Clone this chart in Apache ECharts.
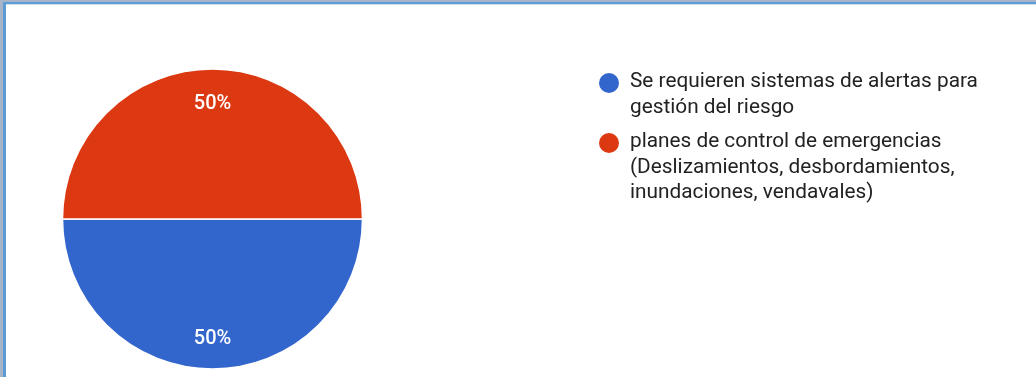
<!DOCTYPE html>
<html>
<head>
<meta charset="utf-8">
<script src="https://cdn.jsdelivr.net/npm/echarts@6/dist/echarts.min.js"></script>
<style>
  html, body { margin: 0; padding: 0; background: #ffffff; }
  #chart { position: absolute; left: 0; top: 0; width: 1036px; height: 377px; }
  .b { position: absolute; pointer-events: none; }
</style>
</head>
<body>
<div id="chart"></div>
<div class="b" style="left:0;top:0;width:1036px;height:2px;background:#a6b4c8;"></div>
<div class="b" style="left:0;top:0;width:3px;height:377px;background:#a6b4c8;"></div>
<div class="b" style="left:3px;top:2px;width:1033px;height:2px;background:#5e9ad4;"></div>
<div class="b" style="left:3px;top:2px;width:3px;height:375px;background:#5e9ad4;"></div>
<div class="b" style="left:6px;top:4px;width:1030px;height:1px;background:#cfe0f2;"></div>
<script>
const categories = [
  'Se requieren sistemas de alertas para\ngestión del riesgo',
  'planes de control de emergencias\n(Deslizamientos, desbordamientos,\ninundaciones, vendavales)'
];
const values = [50, 50];
const colors = ['#3366cc', '#dc3912'];

const chart = echarts.init(document.getElementById('chart'), null, { renderer: 'canvas' });

const pieData = categories.map((c, i) => ({ name: c, value: values[i], itemStyle: { color: colors[i] } }));
const lineH = 25.5;
const firstLineY = [82, 142];
const iconSize = 22;
const labelOffsets = [[0, -1], [0, 6]];

// icon-only legends (one per item), aligned with the first text line
const iconLegends = categories.map((c, i) => ({
  show: true,
  orient: 'vertical',
  left: 597,
  top: firstLineY[i] - iconSize / 2,
  padding: 0,
  itemWidth: iconSize,
  itemHeight: iconSize,
  icon: 'circle',
  selectedMode: false,
  formatter: () => '',
  data: [{ name: c, itemStyle: { color: colors[i] } }],
  textStyle: { fontSize: 1 }
}));

// text-only legends (one per item)
const textLegends = categories.map((c, i) => ({
  show: true,
  orient: 'vertical',
  left: 623,
  top: firstLineY[i] - lineH / 2,
  padding: 0,
  itemWidth: 1,
  itemHeight: 1,
  icon: 'rect',
  selectedMode: false,
  data: [{ name: c, itemStyle: { color: 'rgba(0,0,0,0)', opacity: 0 } }],
  textStyle: {
    fontFamily: 'Roboto',
    fontSize: 20.8,
    color: '#222222',
    lineHeight: lineH
  }
}));

chart.setOption({
  animation: false,
  legend: iconLegends.concat(textLegends),
  series: [
    {
      type: 'pie',
      center: [212.5, 219],
      radius: [0, 150],
      startAngle: 0,
      clockwise: true,
      silent: true,
      label: { show: false },
      labelLine: { show: false },
      itemStyle: { borderColor: '#ffffff', borderWidth: 1.5 },
      data: pieData
    },
    {
      type: 'pie',
      center: [212.5, 219],
      radius: [86, 150],
      startAngle: 0,
      clockwise: true,
      silent: true,
      legendHoverLink: false,
      itemStyle: { color: 'rgba(0,0,0,0)' },
      label: {
        show: true,
        position: 'inside',
        formatter: '{d}%',
        color: '#ffffff',
        fontFamily: 'Roboto',
        fontSize: 20,
        fontWeight: 500
      },
      labelLine: { show: false },
      data: categories.map((c, i) => ({ name: c, value: values[i], label: { offset: labelOffsets[i] } }))
    }
  ]
});
</script>
</body>
</html>
